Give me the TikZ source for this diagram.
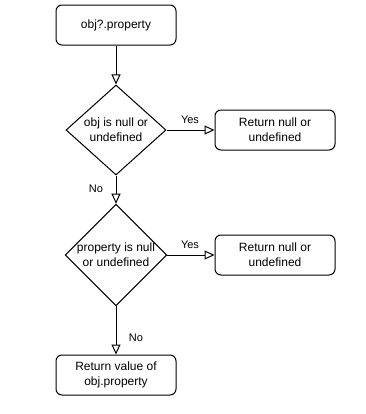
\documentclass[tikz,border=0pt]{standalone}
\usepackage{fontspec}
\setmainfont{Liberation Sans}
\usetikzlibrary{arrows.meta,shapes.geometric}
\begin{document}
\begin{tikzpicture}[x=0.75pt,y=-0.75pt,
  font=\fontsize{9}{11}\selectfont,
  rbox/.style={draw,line width=0.75pt,rounded corners=4.5pt,minimum width=90pt,minimum height=30pt,align=center,inner sep=0pt},
  dec/.style={draw,line width=0.75pt,diamond,minimum width=75pt,minimum height=67.5pt,inner sep=0pt,align=center,aspect=1.11},
  arr/.style={draw,line width=0.75pt,-{Triangle[open,length=7.5pt,width=6.75pt]}},
  lbl/.style={font=\fontsize{8.25}{10}\selectfont}]
\useasboundingbox (0,0) rectangle (366,414);
\node[rbox] (start) at (116,25) {obj?.property};
\node[dec,minimum height=67.5pt] (d1) at (116,130) {obj is null or\\undefined};
\node[rbox] (r1) at (275,130) {Return null or\\undefined};
\node[dec,minimum height=75pt,aspect=1] (d2) at (116,255) {property is null\\or undefined};
\node[rbox] (r2) at (275,255) {Return null or\\undefined};
\node[rbox] (end) at (116,375) {Return value of\\obj.property};
\draw[arr] (start) -- (d1);
\draw[arr] (d1) -- (r1);
\draw[arr] (d1) -- (d2);
\draw[arr] (d2) -- (r2);
\draw[arr] (d2) -- (end);
\node[lbl] (y1) at (190,120) {Yes};
\node[lbl] (y2) at (190,245) {Yes};
\node[lbl] (n1) at (96,189) {No};
\node[lbl] (n2) at (136,338) {No};
\end{tikzpicture}
\end{document}
